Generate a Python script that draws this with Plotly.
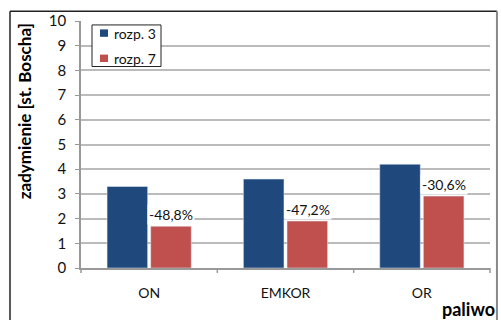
import plotly.graph_objects as go

categories = ["ON", "EMKOR", "OR"]
series_names = ["rozp. 3", "rozp. 7"]
rozp3 = [3.3, 3.6, 4.2]
rozp7 = [1.69, 1.9, 2.91]
change_labels = ["-48,8%", "-47,2%", "-30,6%"]
y_ticks = list(range(0, 11))

FONT = "Lato"
BLUE = "#1F497D"
RED = "#C0504D"
TEXT = "#111111"

fig = go.Figure()
fig.add_trace(go.Bar(x=categories, y=rozp3, name=series_names[0], marker_color=BLUE,
                     showlegend=False))
fig.add_trace(go.Bar(x=categories, y=rozp7, name=series_names[1], marker_color=RED,
                     showlegend=False))

# percentage change labels above the second series
for cat, val, lab in zip(categories, rozp7, change_labels):
    fig.add_annotation(x=cat, y=val, text=lab, showarrow=False, xshift=22,
                       yanchor="bottom", yshift=1, bgcolor="white", borderpad=1,
                       font=dict(family=FONT, size=14, color=TEXT))

# outer chart frame
frame = [
    dict(x0=-0.1736, x1=-0.1736, y0=1.039, y1=-0.25, color="#222", w=1.5),
    dict(x0=-0.1736, x1=1.017, y0=1.039, y1=1.039, color="#222", w=1.5),
    dict(x0=1.017, x1=1.017, y0=1.039, y1=-0.25, color="#888", w=2),
]
for f in frame:
    fig.add_shape(type="line", xref="paper", yref="paper", x0=f["x0"], x1=f["x1"],
                  y0=f["y0"], y1=f["y1"], line=dict(color=f["color"], width=f["w"]))

# legend box with series swatches
fig.add_shape(type="rect", xref="paper", yref="paper", x0=0.0269, x1=0.1956,
              y0=0.8157, y1=0.984, line=dict(color="#222", width=1), fillcolor="white")
for name, color, yc in zip(series_names, [BLUE, RED], [0.951, 0.849]):
    fig.add_shape(type="rect", xref="paper", yref="paper",
                  x0=0.0465, x1=0.0660, y0=yc - 0.015, y1=yc + 0.015,
                  line=dict(width=0), fillcolor=color)
    fig.add_annotation(xref="paper", yref="paper", x=0.0758, y=yc, text=name,
                       showarrow=False, xanchor="left", yanchor="middle",
                       font=dict(family=FONT, size=14, color=TEXT))

# axis titles
fig.add_annotation(xref="paper", yref="paper", x=1.017, y=-0.165, text="<b>paliwo</b>",
                   showarrow=False, xanchor="right", yanchor="middle",
                   font=dict(family=FONT, size=18, color="black"))
fig.add_annotation(xref="paper", yref="paper", x=-0.139, y=0.635,
                   text="<b>zadymienie [st. Boscha]</b>", textangle=-90,
                   showarrow=False, xanchor="center", yanchor="middle",
                   font=dict(family=FONT, size=17, color="black"))

fig.update_layout(
    width=501, height=320,
    margin=dict(l=81, r=11, t=13, b=52),
    paper_bgcolor="white", plot_bgcolor="white",
    barmode="group", bargap=0.36, bargroupgap=0.07,
    font=dict(family=FONT, size=14, color=TEXT),
    showlegend=False,
    xaxis=dict(showline=True, linecolor="#999", linewidth=1.5,
               ticks="", showgrid=False, tickfont=dict(size=14),
               ticklabelstandoff=11),
    yaxis=dict(range=[0, 10], tickvals=y_ticks, showgrid=True, gridcolor="#BBBBBB",
               gridwidth=1.5, showline=True, linecolor="#999", linewidth=1.5,
               ticks="outside", ticklen=4, tickcolor="#999",
               tickfont=dict(size=15), ticklabelstandoff=6),
)

# category boundary ticks on the x axis
for b in [0, 1/3, 2/3, 1]:
    fig.add_shape(type="line", xref="paper", yref="paper", x0=b, x1=b,
                  y0=0, y1=-0.02, line=dict(color="#999", width=1.5))

fig.write_html("out.html")
